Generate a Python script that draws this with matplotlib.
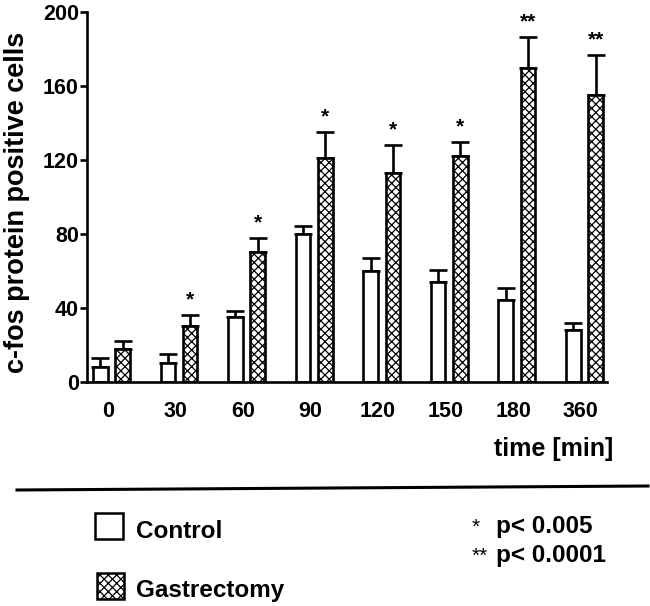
import matplotlib
matplotlib.use("Agg")
import matplotlib.pyplot as plt
import numpy as np
from matplotlib.patches import Rectangle

plt.rcParams["font.family"] = ["Liberation Sans", "DejaVu Sans"]
plt.rcParams["font.weight"] = "bold"
plt.rcParams["hatch.linewidth"] = 0.9

# data
times = ["0", "30", "60", "90", "120", "150", "180", "360"]
control = [8, 10, 35, 80, 60, 54, 44, 28]
control_err = [5, 5, 3.5, 4.5, 7, 6.5, 7, 4]
gastrectomy = [18, 30, 70, 121, 113, 122, 170, 155]
gastrectomy_err = [4, 6, 8, 14, 15, 8, 16.5, 22]
signif = ["", "*", "*", "*", "*", "*", "**", "**"]

x = np.arange(len(times))
w = 0.215

W, H = 650, 606
fig = plt.figure(figsize=(6.5, 6.06), dpi=100)
ax = fig.add_axes([0.134, 0.370, 0.80, 0.610])

ax.bar(x - 0.16, control, w, color="white", edgecolor="black", linewidth=1.9, zorder=2)
ax.bar(x + 0.17, gastrectomy, w, color="white", edgecolor="black", linewidth=1.9,
       hatch="xxxx", zorder=2)

ax.errorbar(x - 0.16, control, yerr=[np.zeros(len(x)), control_err], fmt="none",
            ecolor="black", elinewidth=1.9, capsize=6.5, capthick=1.9, zorder=1)
ax.errorbar(x + 0.17, gastrectomy, yerr=[np.zeros(len(x)), gastrectomy_err], fmt="none",
            ecolor="black", elinewidth=1.9, capsize=6.5, capthick=1.9, zorder=1)

for xi, v, e, s in zip(x, gastrectomy, gastrectomy_err, signif):
    if s:
        ax.text(xi + 0.17, v + e + 3, s, ha="center", va="bottom", fontsize=15,
                fontweight="bold")

ax.set_xlim(-0.355, 7.34)
ax.set_ylim(0, 200)
ax.set_yticks([0, 40, 80, 120, 160, 200])
ax.set_xticks(x - 0.05)
ax.set_xticklabels(times)
ax.tick_params(axis="x", length=0, pad=14, labelsize=15.5)
ax.tick_params(axis="y", length=5, width=1.9, pad=1, labelsize=15.5)
for lab in ax.get_xticklabels() + ax.get_yticklabels():
    lab.set_fontweight("bold")
for sp in ["top", "right"]:
    ax.spines[sp].set_visible(False)
for sp in ["left", "bottom"]:
    ax.spines[sp].set_linewidth(1.9)

fig.text(17 / W, 1 - 202 / H, "c-fos protein positive cells", rotation=90,
         ha="center", va="center", fontsize=19.5, fontweight="bold")
fig.text(613 / W, 1 - 449 / H, "time [min]", ha="right", va="center",
         fontsize=18, fontweight="bold")

# separator line
fig.add_artist(plt.Line2D([17 / W, 648 / W], [1 - 490 / H, 1 - 486 / H],
                          color="black", linewidth=2.2, transform=fig.transFigure))

# legend
fig.add_artist(Rectangle((95 / W, 1 - 539 / H), 28 / W, 26 / H,
                         transform=fig.transFigure, facecolor="white",
                         edgecolor="black", linewidth=1.8))
fig.add_artist(Rectangle((97 / W, 1 - 599 / H), 27 / W, 26 / H,
                         transform=fig.transFigure, facecolor="white",
                         edgecolor="black", linewidth=1.8, hatch="xxxx"))
fig.text(136 / W, 1 - 538 / H, "Control", ha="left", va="baseline",
         fontsize=17.5, fontweight="bold")
fig.text(136 / W, 1 - 597 / H, "Gastrectomy", ha="left", va="baseline",
         fontsize=17.5, fontweight="bold")
fig.text(472 / W, 1 - 533 / H, "*", ha="left", va="baseline", fontsize=15,
         fontweight="normal")
fig.text(472 / W, 1 - 562 / H, "**", ha="left", va="baseline", fontsize=15,
         fontweight="normal")
fig.text(496 / W, 1 - 533 / H, "p< 0.005", ha="left", va="baseline",
         fontsize=17.5, fontweight="bold")
fig.text(496 / W, 1 - 562 / H, "p< 0.0001", ha="left", va="baseline",
         fontsize=17.5, fontweight="bold")

fig.savefig("out.png", dpi=100)
